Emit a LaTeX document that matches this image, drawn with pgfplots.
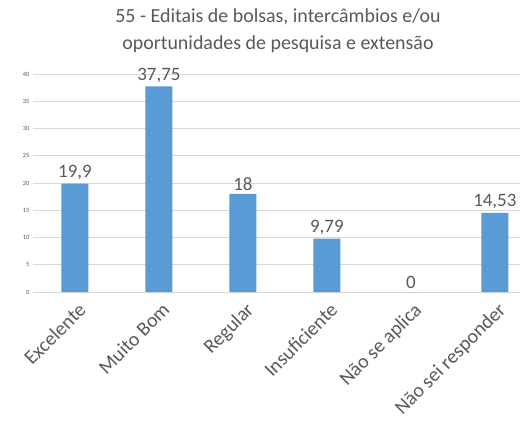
\documentclass[border=0pt]{standalone}
\usepackage{pgfplots}
\pgfplotsset{compat=1.18}
\usepackage{fontspec}
\setmainfont{Carlito}
\usetikzlibrary{calc}
\definecolor{barblue}{HTML}{5B9BD5}
\definecolor{txtgray}{HTML}{595959}
\definecolor{gridgray}{HTML}{D9D9D9}

\begin{document}
\begin{tikzpicture}
\begin{axis}[
  scale only axis, width=487bp, height=218bp,
  ymin=0, ymax=40, ytick={0,5,...,40},
  xmin=-0.5, xmax=5.3,
  xtick=data,
  xticklabels={Excelente,Muito Bom,Regular,Insuficiente,Não se aplica,Não sei responder},
  axis line style={draw=none},
  major tick length=0pt,
  ymajorgrids, grid style={gridgray, line width=0.8pt},
  ybar, bar width=27bp, bar shift=0pt,
  x tick label style={rotate=45, anchor=north east, font=\fontsize{20}{20}\selectfont, text=txtgray, inner sep=2bp, yshift=-6bp, xshift=-3bp},
  y tick label style={font=\fontsize{6.5}{6.5}\selectfont, text=txtgray},
  nodes near coords, point meta=explicit symbolic,
  nodes near coords style={font=\fontsize{19}{19}\selectfont, text=txtgray},
  clip=false,
  /pgf/number format/assume math mode=true,
]
\addplot[fill=barblue, draw=none] table[meta=lab] {
x y lab
0 19.9 19,9
1 37.75 37,75
2 18 18
3 9.79 9,79
4 0 0
5 14.53 14,53
};
\coordinate (sw) at (rel axis cs:0,0);
\end{axis}
\node[align=center, font=\fontsize{20}{27}\selectfont, text=txtgray]
  at ($(sw)+(245bp,261.5bp)$)
  {55 - Editais de bolsas, intercâmbios e/ou\\oportunidades de pesquisa e extensão};
\pgfresetboundingbox
\path[use as bounding box] ($(sw)+(-33bp,-131bp)$) rectangle ($(sw)+(497bp,292bp)$);
\end{tikzpicture}
\end{document}
